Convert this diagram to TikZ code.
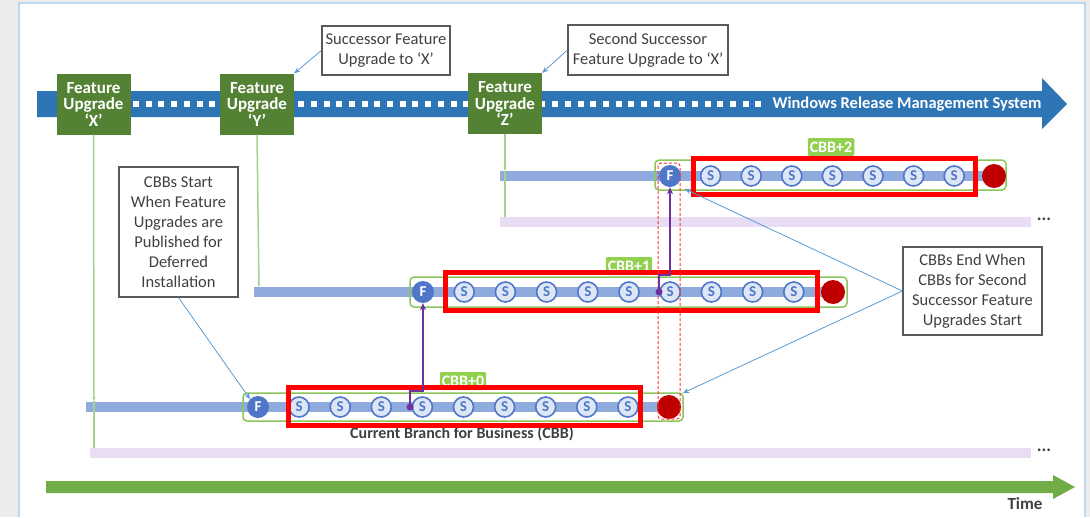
\documentclass[tikz,border=0pt]{standalone}
\usepackage{fontspec}
\setmainfont{Carlito}
\usetikzlibrary{arrows.meta,positioning}

\definecolor{bannerblue}{HTML}{2E75B6}
\definecolor{fugreen}{HTML}{548235}
\definecolor{linegreen}{HTML}{A9D18E}
\definecolor{barblue}{HTML}{8FAADC}
\definecolor{fblue}{HTML}{4F76C8}
\definecolor{sfill}{HTML}{DCE6F5}
\definecolor{enddark}{HTML}{C00000}
\definecolor{cbbgreen}{HTML}{92D050}
\definecolor{boxgreen}{HTML}{8CC65A}
\definecolor{lav}{HTML}{E8DDF3}
\definecolor{purp}{HTML}{7030A0}
\definecolor{timegreen}{HTML}{70AD47}
\definecolor{calgray}{HTML}{595959}
\definecolor{caltext}{HTML}{404040}
\definecolor{callblue}{HTML}{5B9BD5}
\definecolor{framecol}{HTML}{BDD7EE}

\tikzset{
  fubox/.style={fill=fugreen, text=white, font=\fontsize{17}{16.5}\selectfont\bfseries,
    align=center, minimum width=74pt, minimum height=61pt, inner sep=1pt},
  callout/.style={draw=calgray, line width=1.2pt, fill=white, text=caltext,
    font=\fontsize{16.5}{20}\selectfont, align=center, inner sep=2pt},
  fcirc/.style={circle, fill=fblue, text=white, font=\fontsize{15}{15}\selectfont\bfseries,
    minimum size=22pt, inner sep=0pt},
  scirc/.style={circle, draw=fblue, fill=sfill, line width=1.6pt, text=fblue,
    font=\fontsize{15}{15}\selectfont\bfseries, minimum size=20pt, inner sep=0pt},
  enddot/.style={circle, fill=enddark, minimum size=24pt, inner sep=0pt},
  cbblabel/.style={fill=cbbgreen, rounded corners=2pt, text=white,
    font=\fontsize{16}{16}\selectfont\bfseries, inner sep=2pt, minimum height=18pt},
  cbbbar/.style={draw=barblue, line width=10pt},
  cbbbox/.style={draw=boxgreen, line width=1.5pt, rounded corners=4pt},
  redbox/.style={draw=red, line width=5pt},
  vline/.style={draw=linegreen, line width=1.5pt},
  callarr/.style={draw=callblue, line width=0.8pt, -{Stealth[length=6pt,width=5pt]}},
  uparr/.style={draw=purp, line width=1.8pt, -{Stealth[length=7pt,width=6pt]}}
}

\begin{document}
\begin{tikzpicture}[x=1pt,y=-1pt]
\useasboundingbox (0,0) rectangle (1090,517);
% frame
\fill[gray!15] (0,0) rectangle (1090,517);
\fill[white] (19,3) rectangle (1085,517);
\draw[framecol, line width=1.2pt] (19,517) -- (19,3) -- (1085,3) -- (1085,517);

% release management banner
\fill[bannerblue] (37,91) -- (1042,91) -- (1042,78) -- (1067,104) -- (1042,129)
  -- (1042,117) -- (37,117) -- cycle;
\draw[white, line width=6pt, dash pattern=on 6pt off 6.7pt] (133,104) -- (763,104);
\node[text=white, font=\fontsize{16.5}{16}\selectfont\bfseries] (wrms) at (907,104)
  {Windows Release Management System};

% feature upgrades
\node[fubox] (fx) at (93.5,104) {Feature\\Upgrade\\`X'};
\node[fubox] (fy) at (257,104) {Feature\\Upgrade\\`Y'};
\node[fubox] (fz) at (505,103.5) {Feature\\Upgrade\\`Z'};

% lavender bars
\fill[lav] (90,448) rectangle (1031,458);
\fill[lav] (500,217) rectangle (1031,227);
\node[font=\fontsize{18}{18}\selectfont\bfseries, text=caltext] (more0) at (1044,450) {...};
\node[font=\fontsize{18}{18}\selectfont\bfseries, text=caltext] (more2) at (1044,219) {...};

% cbb bars
\coordinate (b0) at (86,407);
\coordinate (b1) at (254,292);
\coordinate (b2) at (500,176);
\draw[cbbbar] (b0) -- (669,407);
\draw[cbbbar] (b1) -- (833,292);
\draw[cbbbar] (b2) -- (994,176);

% lines from upgrades
\draw[vline,-{Stealth[length=4pt]}] (fx.south) -- (94,401);
\draw[vline] (94,401) -- (94,448);
\draw[vline,-{Stealth[length=4pt]}] (fy.south) -- (259,287);
\draw[vline,-{Stealth[length=4pt]}] (fz.south) -- (505,171);
\draw[vline] (505,171) -- (505,217);

% cbb boxes
\draw[cbbbox] (243,393) rectangle (683,421);
\draw[cbbbox] (410,277) rectangle (847,307);
\draw[cbbbox] (655,160) rectangle (1006,190);

% CBB+0
\node[fcirc] (f0) at (258,407) {F};
\foreach \i in {1,...,9}
  \node[scirc] (s0\i) at ({258+41.1*\i},407) {S};
\node[enddot] (r0) at (669,407) {};
% CBB+1
\node[fcirc] (f1) at (423,292) {F};
\foreach \i in {1,...,9}
  \node[scirc] (s1\i) at ({423+41.2*\i},292) {S};
\node[enddot] (r1) at (833,292) {};
% CBB+2
\node[fcirc] (f2) at (670,176) {F};
\foreach \i in {1,...,7}
  \node[scirc] (s2\i) at ({670+40.6*\i},176) {S};
\node[enddot] (r2) at (994,176) {};

% labels
\node[cbblabel] (l0) at (463,381) {CBB+0};
\node[cbblabel] (l1) at (629,266) {CBB+1};
\node[cbblabel] (l2) at (831,147) {CBB+2};
\node[text=caltext, font=\fontsize{16}{16}\selectfont\bfseries] (cbbname) at (462,434)
  {Current Branch for Business (CBB)};

% red boxes
\draw[redbox] (288,387) rectangle (640,425);
\draw[redbox] (445,272) rectangle (817,310);
\draw[redbox] (693,158) rectangle (975,194);
\draw[red!80, line width=1pt, dash pattern=on 3pt off 2pt, rounded corners=3pt]
  (658,163) rectangle (680,419);

% purple handoffs
\coordinate (p0) at (410,407);
\coordinate (p1) at (659,292);
\draw[uparr] (p0) -- ++(0,-16) -| (f1.south);
\draw[uparr] (p1) -- ++(0,-17) -| (f2.south);
\fill[purp] (p0) circle (3.5pt);
\fill[purp] (p1) circle (3.5pt);

% callouts
\node[callout, minimum width=128pt, minimum height=49pt] (succ) at (386,50.5)
  {Successor Feature\\Upgrade to `X'};
\node[callout, minimum width=160pt, minimum height=50pt] (second) at (648,50)
  {Second Successor\\Feature Upgrade to `X'};
\node[callout, minimum width=119pt, minimum height=130pt] (start) at (178.5,232)
  {CBBs Start\\When Feature\\Upgrades are\\Published for\\Deferred\\Installation};
\node[callout, minimum width=139pt, minimum height=88pt] (end) at (972.5,291)
  {CBBs End When\\CBBs for Second\\Successor Feature\\Upgrades Start};
\coordinate (e2) at (685,189);
\coordinate (e0) at (683,393);
\draw[callarr] (succ.west) -- (fy.north east);
\draw[callarr] (second.west) -- (fz.north east);
\draw[callarr] (start.south) -- (f0.north west);
\draw[callarr] (end.west) -- (e2);
\draw[callarr] (end.west) -- (e0);

% time
\fill[timegreen] (46,481) -- (1053,481) -- (1053,475) -- (1075,487) -- (1053,499)
  -- (1053,493) -- (46,493) -- cycle;
\node[text=caltext, font=\fontsize{17}{17}\selectfont\bfseries] (time) at (1025,504) {Time};
\end{tikzpicture}
\end{document}
